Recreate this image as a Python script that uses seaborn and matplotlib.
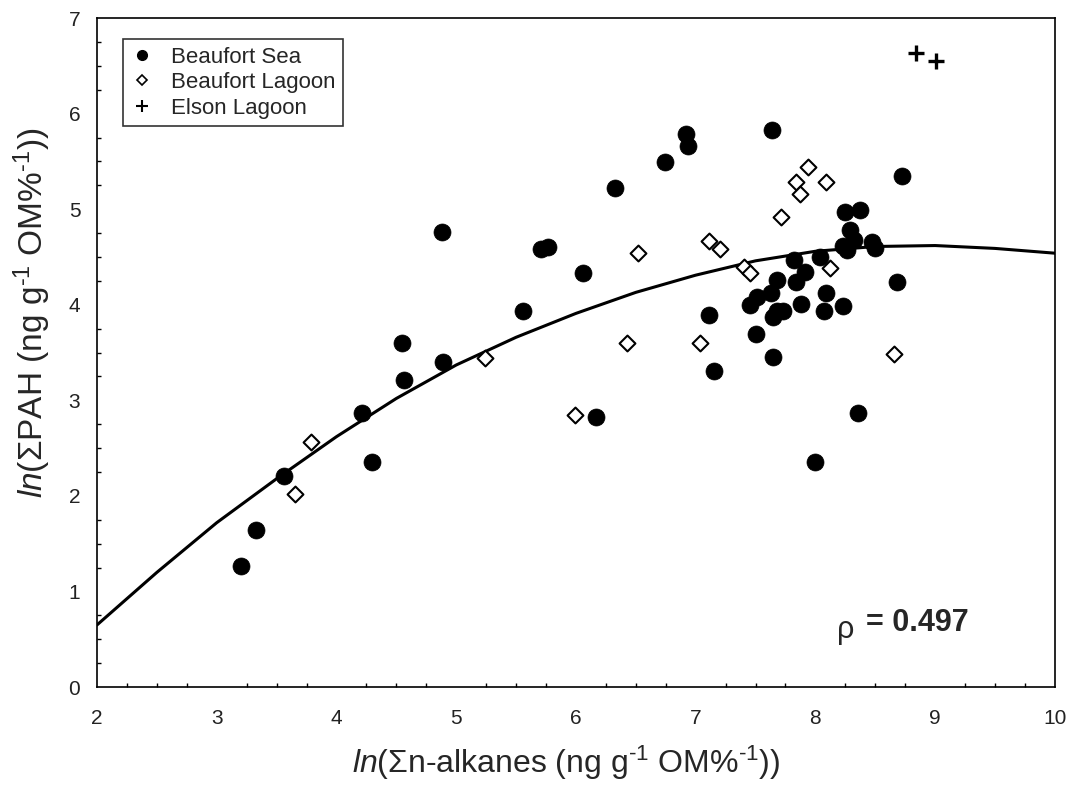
import matplotlib
matplotlib.use("Agg")
import matplotlib.pyplot as plt
from matplotlib.ticker import MultipleLocator
from matplotlib.lines import Line2D
import seaborn as sns

sea_x = [3.20, 3.33, 3.56, 4.21, 4.30, 4.55, 4.56, 4.88, 4.89, 5.56, 5.71, 5.77, 6.06, 6.17, 6.33,
         6.74, 6.92, 6.94, 7.11, 7.15, 7.45, 7.50, 7.51, 7.63, 7.64, 7.65, 7.65, 7.68, 7.68, 7.73,
         7.82, 7.84, 7.88, 7.91, 8.00, 8.04, 8.07, 8.09, 8.23, 8.23, 8.25, 8.26, 8.29, 8.32, 8.36,
         8.37, 8.47, 8.50, 8.68, 8.72]
sea_y = [1.27, 1.64, 2.21, 2.87, 2.36, 3.60, 3.21, 4.76, 3.40, 3.93, 4.58, 4.60, 4.33, 2.83, 5.22,
         5.49, 5.79, 5.66, 3.89, 3.31, 4.00, 3.69, 4.08, 4.12, 5.83, 3.45, 3.87, 3.93, 4.26, 3.94,
         4.47, 4.24, 4.01, 4.34, 2.35, 4.50, 3.94, 4.12, 3.99, 4.62, 4.97, 4.57, 4.78, 4.68, 2.87,
         4.99, 4.66, 4.59, 4.24, 5.35]

lagoon_x = [3.65, 3.79, 5.24, 5.99, 6.43, 6.52, 7.04, 7.11, 7.20, 7.40, 7.45, 7.71, 7.84, 7.87,
            7.94, 8.09, 8.12, 8.66]
lagoon_y = [2.02, 2.56, 3.44, 2.85, 3.60, 4.54, 3.60, 4.67, 4.58, 4.40, 4.33, 4.92, 5.28, 5.16,
            5.44, 5.29, 4.38, 3.49]

elson_x = [8.84, 9.01]
elson_y = [6.64, 6.55]

curve_x = [2.0, 2.5, 3.0, 3.5, 4.0, 4.5, 5.0, 5.5, 6.0, 6.5, 7.0, 7.5, 8.0, 8.5, 9.0, 9.5, 10.0]
curve_y = [0.65, 1.20, 1.72, 2.18, 2.62, 3.02, 3.37, 3.66, 3.91, 4.13, 4.31, 4.46, 4.56, 4.61,
           4.62, 4.59, 4.54]

series_labels = ["Beaufort Sea", "Beaufort Lagoon", "Elson Lagoon"]
rho_text = "0.497"

sns.set_theme(style="white")
plt.rcParams['font.family'] = ['Liberation Sans', 'DejaVu Sans']
plt.rcParams['mathtext.fontset'] = 'custom'
plt.rcParams['mathtext.rm'] = 'Liberation Sans'
plt.rcParams['mathtext.it'] = 'Liberation Sans:italic'
plt.rcParams['mathtext.sf'] = 'Liberation Sans'

fig = plt.figure(figsize=(10.72, 7.87), dpi=100)
ax = fig.add_axes([0.0905, 0.127, 0.8935, 0.850])

sns.lineplot(x=curve_x, y=curve_y, ax=ax, color="black", linewidth=2.2, sort=True, zorder=2)

sns.scatterplot(x=sea_x, y=sea_y, ax=ax, marker="o", s=150, color="black",
                edgecolor="black", linewidth=0.5, zorder=3)
sns.scatterplot(x=lagoon_x, y=lagoon_y, ax=ax, marker="D", s=65, facecolor="white",
                edgecolor="black", linewidth=1.5, zorder=4)
sns.scatterplot(x=elson_x, y=elson_y, ax=ax, marker="+", s=130, color="black",
                linewidth=2.4, zorder=4)

ax.set_xlim(2, 10)
ax.set_ylim(0, 7)
ax.xaxis.set_major_locator(MultipleLocator(1))
ax.xaxis.set_minor_locator(MultipleLocator(0.25))
ax.yaxis.set_major_locator(MultipleLocator(1))
ax.yaxis.set_minor_locator(MultipleLocator(0.25))
ax.tick_params(which="both", direction="in", top=False, right=False, colors="black")
ax.tick_params(which="major", length=6, width=1, labelsize=15)
ax.tick_params(axis="x", which="major", pad=16)
ax.tick_params(axis="y", which="major", pad=12)
ax.tick_params(which="minor", length=3, width=1, left=True, bottom=True)
for lab in ax.get_xticklabels() + ax.get_yticklabels():
    lab.set_color("#222222")
for sp in ax.spines.values():
    sp.set_color("black")
    sp.set_linewidth(1.2)

sup = "$^{\u2010\\mathregular{1}}$"
ax.set_xlabel("$\\mathit{ln}$(\u03a3n-alkanes (ng g" + sup + " OM%" + sup + "))", fontsize=23)
ax.set_ylabel("$\\mathit{ln}$(\u03a3PAH (ng g" + sup + " OM%" + sup + "))", fontsize=24)
ax.xaxis.set_label_coords(0.49, -0.084)
ax.yaxis.set_label_coords(-0.046, 0.56)

handles = [
    Line2D([], [], linestyle="none", marker="o", markersize=7, color="black"),
    Line2D([], [], linestyle="none", marker="D", markersize=5.5, markerfacecolor="white",
           markeredgecolor="black", markeredgewidth=1.2),
    Line2D([], [], linestyle="none", marker="+", markersize=9, color="black", markeredgewidth=1.5),
]
leg = ax.legend(handles, series_labels, loc="upper left", bbox_to_anchor=(0.027, 0.969),
                borderaxespad=0, fontsize=16, frameon=True, fancybox=False, edgecolor="black",
                handlelength=1.0, handletextpad=0.8, labelspacing=0.2, borderpad=0.35)
leg.get_frame().set_linewidth(1.2)

ax.text(8.18, 0.60, "\u03c1", fontsize=22, ha="left", va="center")
ax.text(8.42, 0.67, "= " + rho_text, fontsize=22, fontweight="bold", ha="left", va="center")

fig.savefig("out.png", dpi=100)
